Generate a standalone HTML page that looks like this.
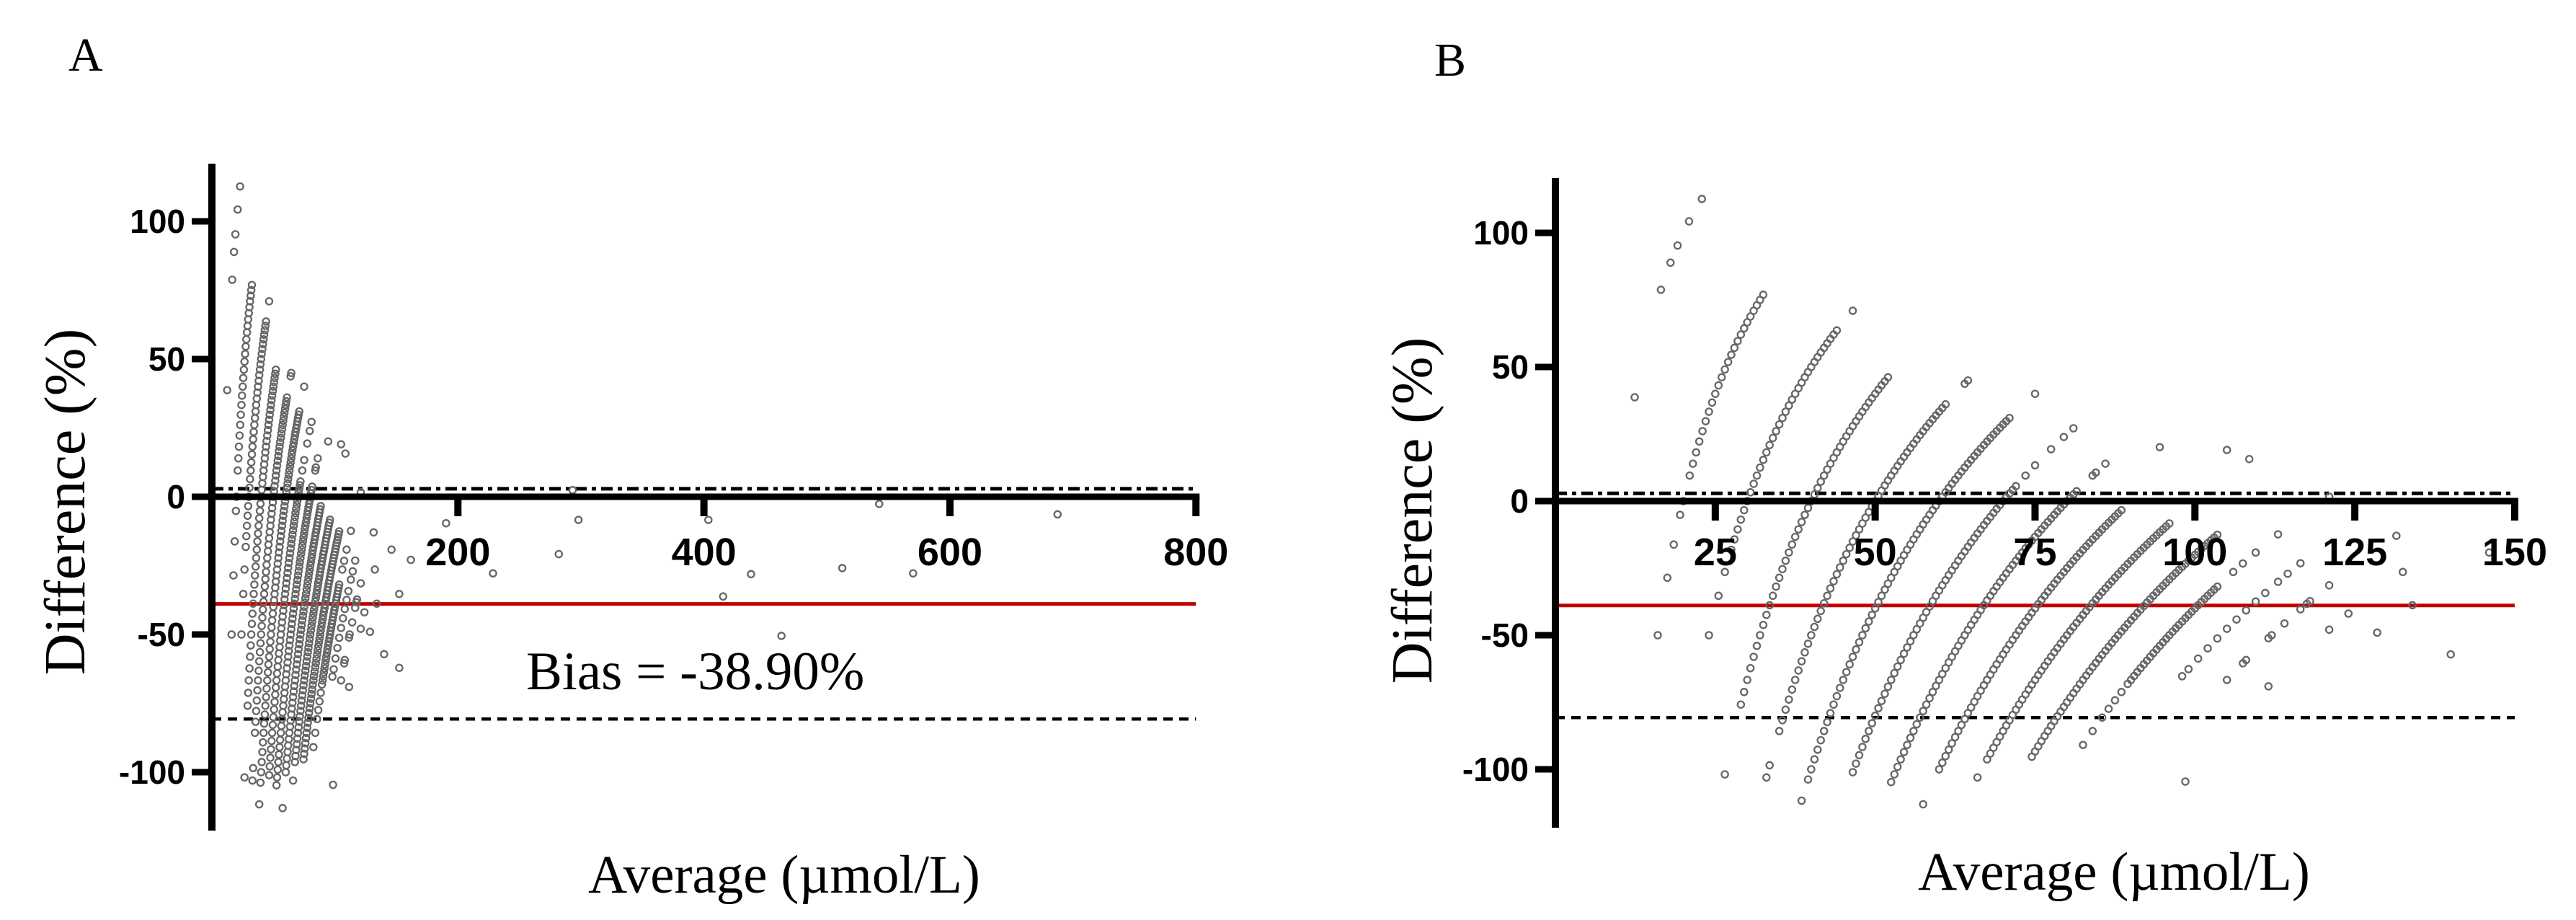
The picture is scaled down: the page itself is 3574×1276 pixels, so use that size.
<!DOCTYPE html>
<html><head><meta charset="utf-8">
<style>
html,body{margin:0;padding:0;background:#fff;}
svg{display:block;}
.tick{font-family:"Liberation Sans",Arial,sans-serif;font-weight:bold;font-size:54px;fill:#000;}
.ytick{font-family:"Liberation Sans",Arial,sans-serif;font-weight:bold;font-size:46px;fill:#000;}
.serif{font-family:"Liberation Serif","Times New Roman",serif;fill:#000;}
</style></head>
<body>
<svg id="fig" width="3574" height="1276" viewBox="0 0 3574 1276" xmlns="http://www.w3.org/2000/svg">
  <rect width="3574" height="1276" fill="#fff"/>
  <text class="serif" x="95" y="98" font-size="66">A</text>
  <text class="serif" x="1990" y="105" font-size="66">B</text>
  <text class="serif" font-size="80" text-anchor="middle" transform="translate(117,696) rotate(-90)">Difference (%)</text>
  <text class="serif" font-size="80" text-anchor="middle" transform="translate(1986,708) rotate(-90)">Difference (%)</text>
  <text class="serif" font-size="75" text-anchor="middle" x="1088" y="1238">Average (µmol/L)</text>
  <text class="serif" font-size="75" text-anchor="middle" x="2933" y="1234">Average (µmol/L)</text>
  <text class="serif" font-size="75" x="730" y="956">Bias = -38.90%</text>
  <g id="panelA"></g>
  <g id="panelB"></g>
</svg>
<script>
// Reference value of each measurement curve (µmol/L)
const curveRef = [10, 20, 30, 40, 50, 60, 70, 80, 85, 90, 95, 100, 110, 120, 130, 140, 150, 160, 180];
// Test-method values paired with each reference value
const curveTest = [
  [14.8, 23, 26, 28.2, 31.8, 35.8],
  [12, 15, 17, 19, 20, 22, 23, 24, 25, 26, 27, 28, 29, 30, 31, 32, 33, 34, 35, 36, 37, 38, 39, 40, 41, 42, 43, 44, 45],
  [18, 21, 23, 25, 26, 27, 28, 29, 30, 31, 32, 33, 34, 35, 36, 37, 38, 39, 40, 41, 42, 43, 44, 45, 46, 47, 48, 49, 50, 51, 52, 53, 54, 55, 56, 57, 58, 63],
  [13, 18, 19, 20, 21, 22, 23, 24, 25, 26, 27, 28, 29, 30, 31, 32, 33, 34, 35, 36, 37, 38, 39, 40, 41, 42, 43, 44, 45, 46, 47, 48, 49, 50, 51, 52, 53, 54, 55, 56, 57, 58, 59, 60, 61, 62, 63, 64],
  [16, 17, 20, 21, 22, 23, 24, 25, 26, 27, 28, 29, 30, 31, 32, 33, 34, 35, 36, 37, 38, 39, 40, 41, 42, 43, 44, 45, 46, 47, 48, 49, 50, 51, 52, 53, 54, 55, 56, 57, 58, 59, 60, 61, 62, 63, 64, 65, 66, 67, 68, 69, 70, 71, 72, 78, 79],
  [17, 19, 20, 21, 22, 23, 24, 25, 26, 27, 28, 29, 30, 31, 32, 33, 34, 35, 36, 37, 38, 39, 40, 41, 42, 43, 44, 45, 46, 47, 48, 49, 50, 51, 52, 53, 54, 55, 56, 57, 58, 59, 60, 61, 62, 63, 64, 65, 66, 67, 68, 69, 70, 71, 72, 73, 74, 75, 76, 77, 78, 79, 80, 81, 82, 90],
  [23, 24, 25, 26, 27, 28, 29, 30, 31, 32, 33, 34, 35, 36, 37, 38, 39, 40, 41, 42, 43, 44, 45, 46, 47, 48, 49, 50, 51, 52, 53, 54, 55, 56, 57, 58, 59, 60, 61, 62, 63, 64, 65, 66, 67, 68, 69, 70, 71, 72, 73, 74, 77, 80, 85, 89, 92],
  [25, 26, 27, 28, 29, 30, 31, 32, 33, 34, 35, 36, 37, 38, 39, 40, 41, 42, 43, 44, 45, 46, 47, 48, 49, 50, 51, 52, 53, 54, 55, 56, 57, 58, 59, 60, 61, 62, 63, 64, 65, 66, 67, 68, 69, 70, 71, 72, 73, 74, 75, 76, 77, 78, 79, 80, 81, 82, 83, 88, 89, 92],
  [104],
  [25, 30, 31, 32, 33, 34, 35, 36, 37, 38, 39, 40, 41, 42, 43, 44, 45, 46, 47, 48, 49, 50, 51, 52, 53, 54, 55, 56, 57, 58, 59, 60, 61, 62, 63, 64, 65, 66, 67, 68, 69, 70, 71, 72, 73, 74, 75, 76, 77, 78, 79, 80, 81, 82, 83, 84, 85, 86, 87],
  [115],
  [32, 35, 36, 37, 38, 39, 40, 41, 42, 43, 44, 45, 46, 47, 48, 49, 50, 51, 52, 53, 54, 55, 56, 57, 58, 59, 60, 61, 62, 63, 64, 65, 66, 67, 68, 69, 70, 71, 72, 73, 74, 75, 76, 77, 78, 79, 80, 81, 82, 83, 84, 85, 86, 87, 88, 89, 90, 91, 92, 117],
  [39, 40, 41, 42, 43, 44, 45, 46, 47, 48, 49, 50, 51, 52, 53, 54, 55, 56, 57, 58, 59, 60, 61, 62, 63, 64, 65, 66, 67, 68, 69, 70, 71, 72, 73, 74, 75, 76, 77, 78, 79, 80, 81, 82, 83, 84, 85, 86, 87, 88, 89, 90, 91, 92, 93, 94, 95, 96, 97],
  [45, 48, 51, 53, 55, 57, 59, 60, 61, 62, 63, 64, 65, 66, 67, 68, 69, 70, 71, 72, 73, 74, 75, 76, 77, 78, 79, 80, 81, 82, 83, 84, 85, 86, 87, 92, 95, 99, 106, 122],
  [66, 68, 71, 74, 77, 80, 83, 86, 89, 92, 96, 99, 103],
  [70, 75, 76, 83, 84, 88, 93, 95, 96, 102, 123],
  [47, 73, 92, 98, 115],
  [97, 108, 132],
  [100]
];
// High-concentration points only visible on the full-range panel (mean, % difference)
const extraMeans = [161.7, 190.4, 228.5, 282, 293.3, 298, 403.6, 415.6, 438.3, 463, 512.5, 542.5, 570, 687.5, 152.3, 152.3];
const extraDiffs = [-22.9, -9.6, -27.8, -20.8, 2.4, -8.4, -8.4, -36.2, -28.1, -50.5, -25.9, -2.6, -27.8, -6.4, -35.3, -62.1];
// Summary statistics
const biasValue = -38.9;
const upperLoA = 2.9;
const lowerLoA = -80.7;
// Tick labels
const yTicks = [100, 50, 0, -50, -100];
const xTicksA = [200, 400, 600, 800];
const xTicksB = [25, 50, 75, 100, 125, 150];

const NS = 'http://www.w3.org/2000/svg';
function mk(tag, attrs, parent) {
  const e = document.createElementNS(NS, tag);
  for (const k in attrs) e.setAttribute(k, attrs[k]);
  parent.appendChild(e);
  return e;
}

function drawPanel(g, cfg, ticksX, tag) {
  const xPx = v => cfg.x0 + v * cfg.kx;
  const yPx = v => cfg.y0 - v * cfg.ky;
  const xEnd = xPx(cfg.xmax);

  let l = mk('line', {x1: cfg.x0, x2: xEnd, y1: yPx(upperLoA), y2: yPx(upperLoA), stroke: '#000', 'stroke-width': 5, 'stroke-dasharray': '16 7 6 7'}, g);
  
  
  l = mk('line', {x1: cfg.x0, x2: xEnd, y1: yPx(lowerLoA), y2: yPx(lowerLoA), stroke: '#000', 'stroke-width': 4.5, 'stroke-dasharray': '13 9'}, g);
  
  
  l = mk('line', {x1: cfg.x0, x2: xEnd, y1: yPx(biasValue), y2: yPx(biasValue), stroke: '#c00000', 'stroke-width': 5}, g);
  
  

  const pts = mk('g', {fill: 'none', stroke: '#666', 'stroke-width': 2.3}, g);
  
  
  function dot(m, d) {
    if (m > cfg.xmax + 2) return;
    const c = mk('circle', {cx: xPx(m).toFixed(1), cy: yPx(d).toFixed(1), r: 4.6}, pts);
    
    
  }
  curveRef.forEach((b, i) => {
    curveTest[i].forEach(a => {
      const mean = (a + b) / 2;
      const diff = (a - b) / mean * 100;
      dot(mean, diff);
    });
  });
  extraMeans.forEach((m, i) => dot(m, extraDiffs[i]));

  l = mk('line', {x1: cfg.x0, x2: cfg.x0, y1: cfg.top, y2: cfg.bottom, stroke: '#000', 'stroke-width': 10}, g);
  
  
  l = mk('line', {x1: cfg.x0 - 5, x2: xEnd + 5, y1: yPx(0), y2: yPx(0), stroke: '#000', 'stroke-width': 9}, g);
  
  

  yTicks.forEach(t => {
    const y = yPx(t);
    const tk = mk('line', {x1: cfg.x0 - 28, x2: cfg.x0, y1: y, y2: y, stroke: '#000', 'stroke-width': 9}, g);
    
    
    const tx = mk('text', {x: cfg.x0 - 37, y: y + 16, 'text-anchor': 'end', class: 'ytick'}, g);
    tx.textContent = String(t);
    
    
  });
  ticksX.forEach(t => {
    const x = xPx(t);
    const tk = mk('line', {x1: x, x2: x, y1: yPx(0), y2: yPx(0) + 27, stroke: '#000', 'stroke-width': 10}, g);
    
    
    const tx = mk('text', {x: x, y: cfg.labelY, 'text-anchor': 'middle', class: 'tick'}, g);
    tx.textContent = String(t);
    
    
  });
}

drawPanel(document.getElementById('panelA'),
  {x0: 294, kx: 1.7066, xmax: 800, y0: 689, ky: 3.82, top: 227, bottom: 1152, labelY: 784}, xTicksA, 'panel-a');
drawPanel(document.getElementById('panelB'),
  {x0: 2158, kx: 8.873, xmax: 150, y0: 695, ky: 3.72, top: 247, bottom: 1148, labelY: 784}, xTicksB, 'panel-b');
</script>
</body></html>
